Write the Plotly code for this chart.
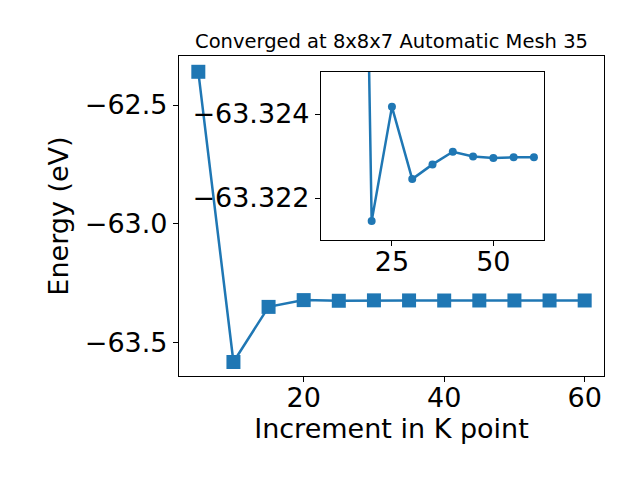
import plotly.graph_objects as go

# data
kpoints = [5, 10, 15, 20, 25, 30, 35, 40, 45, 50, 55, 60]
energy = [-62.36, -63.582, -63.35, -63.32145, -63.32417, -63.32245, -63.32280,
          -63.32310, -63.32299, -63.32295, -63.32297, -63.32297]
inset_k = kpoints[1:]
inset_e = energy[1:]

main_yticks = [-62.5, -63.0, -63.5]
main_yticklabels = ["\u221262.5", "\u221263.0", "\u221263.5"]
main_xticks = [20, 40, 60]
inset_xticks = [25, 50]
inset_yticks = [-63.324, -63.322]
inset_yticklabels = ["\u221263.324", "\u221263.322"]

title = "Converged at 8x8x7 Automatic Mesh 35"
color = "#1f77b4"
FONT = "DejaVu Sans"
FS = 27

fig = go.Figure()
fig.add_trace(go.Scatter(
    x=kpoints, y=energy, mode="lines+markers",
    line=dict(color=color, width=2.5),
    marker=dict(symbol="square", size=14, color=color),
    xaxis="x", yaxis="y", showlegend=False))
fig.add_trace(go.Scatter(
    x=inset_k, y=inset_e, mode="lines+markers",
    line=dict(color=color, width=2.5),
    marker=dict(symbol="circle", size=8, color=color),
    xaxis="x2", yaxis="y2", showlegend=False, cliponaxis=True))

axcommon = dict(showline=True, mirror=True, linecolor="black", linewidth=1.1,
                ticks="outside", ticklen=5, tickwidth=1.1, tickcolor="black",
                showgrid=False, zeroline=False, automargin=False,
                tickfont=dict(family=FONT, size=FS, color="black"))

# page body has an 8px margin, so the figure is 632x472 and offset accordingly
fig.update_layout(
    width=632, height=472,
    paper_bgcolor="white", plot_bgcolor="white",
    margin=dict(l=171.3, r=35.7, t=48, b=104.3, autoexpand=False),
    font=dict(family=FONT, color="black"),
    title=dict(text=title, x=0.6068, xanchor="center", y=0.916, yanchor="bottom",
               font=dict(family=FONT, size=19.5, color="black"), automargin=False),
    xaxis=dict(domain=[0, 1], range=[2.25, 62.75], tickvals=main_xticks,
               ticklabelstandoff=-7,
               title=dict(text="Increment in K point", font=dict(family=FONT, size=FS), standoff=4),
               anchor="y", **axcommon),
    yaxis=dict(domain=[0, 1], range=[-63.641, -62.2935], tickvals=main_yticks,
               ticktext=main_yticklabels,
               title=dict(text="Energy (eV)", font=dict(family=FONT, size=FS), standoff=8),
               anchor="x", **axcommon),
    xaxis2=dict(domain=[0.334, 0.859], range=[7.5, 62.5], tickvals=inset_xticks,
                ticklabelstandoff=-7, anchor="y2", **axcommon),
    yaxis2=dict(domain=[0.425, 0.95], range=[-63.321, -63.325], tickvals=inset_yticks,
                ticktext=inset_yticklabels, anchor="x2", **axcommon),
)

fig.write_html("out.html")
